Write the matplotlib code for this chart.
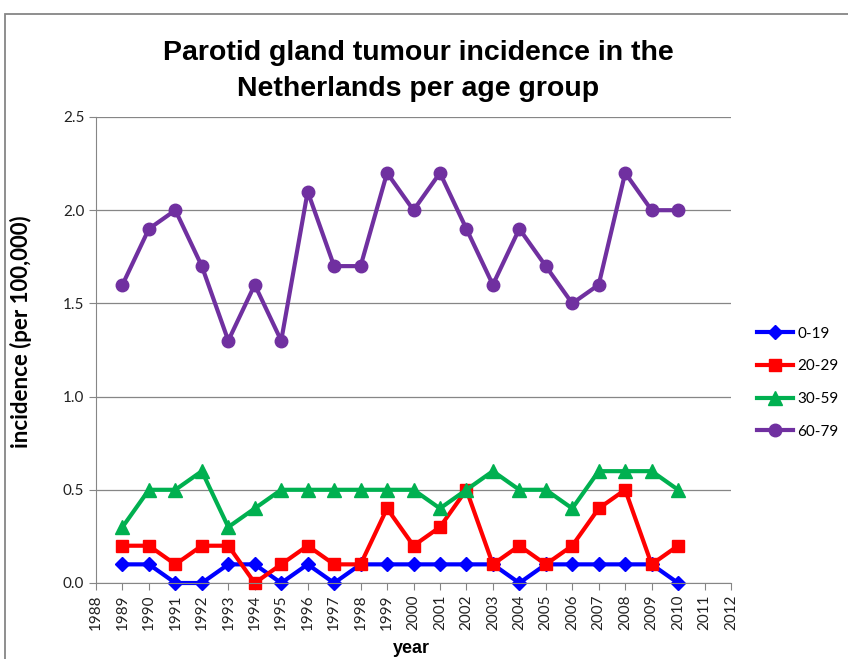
import matplotlib
matplotlib.use("Agg")
import matplotlib.pyplot as plt
from matplotlib.patches import Rectangle

years = list(range(1989, 2011))
age_0_19 = [0.1, 0.1, 0.0, 0.0, 0.1, 0.1, 0.0, 0.1, 0.0, 0.1, 0.1, 0.1, 0.1, 0.1, 0.1, 0.0, 0.1, 0.1, 0.1, 0.1, 0.1, 0.0]
age_20_29 = [0.2, 0.2, 0.1, 0.2, 0.2, 0.0, 0.1, 0.2, 0.1, 0.1, 0.4, 0.2, 0.3, 0.5, 0.1, 0.2, 0.1, 0.2, 0.4, 0.5, 0.1, 0.2]
age_30_59 = [0.3, 0.5, 0.5, 0.6, 0.3, 0.4, 0.5, 0.5, 0.5, 0.5, 0.5, 0.5, 0.4, 0.5, 0.6, 0.5, 0.5, 0.4, 0.6, 0.6, 0.6, 0.5]
age_60_79 = [1.6, 1.9, 2.0, 1.7, 1.3, 1.6, 1.3, 2.1, 1.7, 1.7, 2.2, 2.0, 2.2, 1.9, 1.6, 1.9, 1.7, 1.5, 1.6, 2.2, 2.0, 2.0]
series_labels = ["0-19", "20-29", "30-59", "60-79"]
x_ticks = list(range(1988, 2013))
y_ticks = [0.0, 0.5, 1.0, 1.5, 2.0, 2.5]

plt.rcParams['font.family'] = ['Lato', 'DejaVu Sans']
arial = ['Liberation Sans', 'DejaVu Sans']

W, H = 848, 659
fig = plt.figure(figsize=(W/100, H/100), dpi=100)
fig.patches.append(Rectangle((5/W, -0.1), 1.2, 1 - 14/H + 0.1, transform=fig.transFigure,
                             fill=False, edgecolor='#868686', linewidth=1.3))

ax = fig.add_axes([96/W, 1 - 583/H, (731-96)/W, (583-117)/H])

styles = [
    dict(color='#0000FF', marker='D', markersize=7),
    dict(color='#FF0000', marker='s', markersize=9),
    dict(color='#00B050', marker='^', markersize=10),
    dict(color='#7030A0', marker='o', markersize=9),
]
for data, lab, st in zip([age_0_19, age_20_29, age_30_59, age_60_79], series_labels, styles):
    ax.plot(years, data, label=lab, linewidth=3, clip_on=False, **st)

ax.set_xlim(1988, 2012)
ax.set_ylim(0, 2.5)
ax.set_xticks(x_ticks)
ax.set_xticklabels([str(y) for y in x_ticks], rotation=90, fontsize=11)
ax.set_yticks(y_ticks)
ax.set_yticklabels([f"{v:.1f}" for v in y_ticks], fontsize=11)
ax.yaxis.grid(True, color='#868686', linewidth=0.9)
ax.set_axisbelow(True)
for s in ['top', 'right']:
    ax.spines[s].set_visible(False)
for s in ['left', 'bottom']:
    ax.spines[s].set_color('#868686')
ax.tick_params(axis='both', color='#868686', length=5, direction='out', labelcolor='#222222')

ax.set_ylabel("incidence (per 100,000)", fontsize=16, fontweight='bold')
ax.yaxis.set_label_coords(32/W, 1 - 332/H, transform=fig.transFigure)
ax.set_xlabel("year", fontsize=13, fontweight='bold', family=arial)
ax.xaxis.set_label_coords(411/W, 1 - 640/H, transform=fig.transFigure)
fig.text(418/W, 1 - 71/H, "Parotid gland tumour incidence in the\nNetherlands per age group",
         ha='center', va='center', fontsize=20.5, fontweight='bold', linespacing=1.45, family=arial)

leg = ax.legend(loc='upper left', bbox_to_anchor=(743/W, 1 - 313/H), bbox_transform=fig.transFigure,
                frameon=False, fontsize=11, handlelength=2.4, labelspacing=1.22, handletextpad=0.25)

fig.savefig("out.png", dpi=100)
